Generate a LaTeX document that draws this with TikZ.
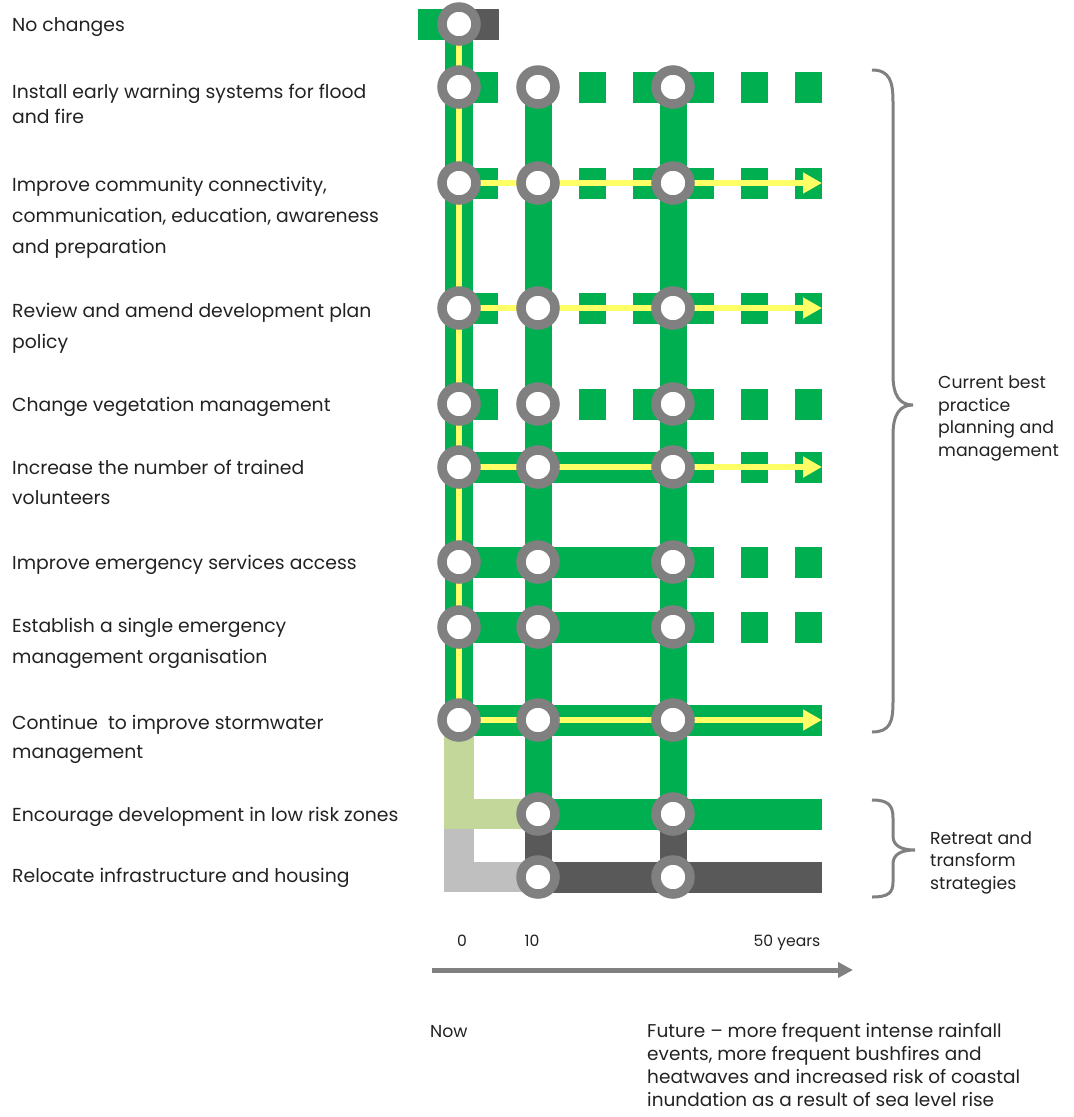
\documentclass[tikz,border=0pt]{standalone}
\usepackage{fontspec}
\setmainfont{Poppins}
\usepackage{xcolor}
\usepackage{tikz}
\usetikzlibrary{
  arrows.meta,
  backgrounds
}
\definecolor{TrackGreen}{HTML}{00B050}
\definecolor{TrackDark}{HTML}{595959}
\definecolor{TrackLight}{HTML}{C4D79B}
\definecolor{TrackGrey}{HTML}{BFBFBF}
\definecolor{RingGray}{HTML}{808080}
\definecolor{FlowYellow}{HTML}{FFFF66}
\definecolor{TextGray}{HTML}{222222}
\tikzset{
  milestone/.style={
    circle,
    draw=RingGray,
    line width=9.5pt,
    fill=white,
    inner sep=0pt,
    minimum size=34pt
  },
  track/.style={
    draw=TrackGreen,
    line width=31pt
  },
  trunk/.style={
    draw=TrackGreen,
    line width=27pt
  },
  dashtrack/.style={
    dash pattern=on 27pt off 27pt,
    dash phase=42pt
  },
  fadetrack/.style={
    dash pattern=on 27pt off 27pt,
    dash phase=27pt
  },
  transfer/.style={
    draw=FlowYellow,
    line width=6pt
  },
  transferArrow/.style={
    transfer,
    -{Triangle[length=19pt,width=20pt]}
  },
  optionText/.style={
    anchor=base west,
    align=left,
    inner sep=0pt,
    text=TextGray,
    font=\fontsize{18.8}{31}\selectfont
  },
  groupText/.style={
    anchor=base west,
    align=left,
    inner sep=0pt,
    text=TextGray,
    font=\fontsize{17.3}{22.5}\selectfont
  },
  yearText/.style={
    anchor=base,
    inner sep=0pt,
    text=TextGray,
    font=\fontsize{15.6}{18}\selectfont
  },
  brace/.style={
    draw=RingGray,
    line width=3pt
  }
}
\begin{document}
\begin{tikzpicture}[
  x=1pt,
  y=-1pt
]

  \useasboundingbox (0,0) rectangle (1074,1117);

  \node[milestone] (noChangeNow) at (459,24) {};
  \node[milestone] (warningNow) at (459,87) {};
  \node[milestone] (warningTen) at (538,87) {};
  \node[milestone] (warningMid) at (673,87) {};
  \node[milestone] (communityNow) at (459,183) {};
  \node[milestone] (communityTen) at (538,183) {};
  \node[milestone] (communityMid) at (673,183) {};
  \node[milestone] (reviewNow) at (459,308) {};
  \node[milestone] (reviewTen) at (538,308) {};
  \node[milestone] (reviewMid) at (673,308) {};
  \node[milestone] (vegetationNow) at (459,404) {};
  \node[milestone] (vegetationTen) at (538,404) {};
  \node[milestone] (vegetationMid) at (673,404) {};
  \node[milestone] (volunteersNow) at (459,467) {};
  \node[milestone] (volunteersTen) at (538,467) {};
  \node[milestone] (volunteersMid) at (673,467) {};
  \node[milestone] (accessNow) at (459,562) {};
  \node[milestone] (accessTen) at (538,562) {};
  \node[milestone] (accessMid) at (673,562) {};
  \node[milestone] (organisationNow) at (459,627) {};
  \node[milestone] (organisationTen) at (538,627) {};
  \node[milestone] (organisationMid) at (673,627) {};
  \node[milestone] (stormwaterNow) at (459,720) {};
  \node[milestone] (stormwaterTen) at (538,720) {};
  \node[milestone] (stormwaterMid) at (673,720) {};
  \node[milestone] (lowRiskTen) at (538,814) {};
  \node[milestone] (lowRiskMid) at (673,814) {};
  \node[milestone] (relocateTen) at (538,877) {};
  \node[milestone] (relocateMid) at (673,877) {};

  \coordinate (noChangeStart) at (418,24);
  \coordinate (noChangeStop) at (499,24);
  \coordinate (warningEnd) at (822,87);
  \coordinate (communityEnd) at (822,183);
  \coordinate (reviewEnd) at (822,308);
  \coordinate (vegetationEnd) at (822,404);
  \coordinate (volunteersFade) at (714,467);
  \coordinate (volunteersEnd) at (822,467);
  \coordinate (accessFade) at (714,562);
  \coordinate (accessEnd) at (822,562);
  \coordinate (organisationFade) at (714,627);
  \coordinate (organisationEnd) at (822,627);
  \coordinate (stormwaterEnd) at (822,720);
  \coordinate (lowRiskNow) at (459,814);
  \coordinate (lowRiskEnd) at (822,814);
  \coordinate (relocateNow) at (459,877);
  \coordinate (relocateEnd) at (822,877);

  \begin{scope}[on background layer]

    \draw[track]
    (noChangeStart) --
    (noChangeNow.center);

    \draw[track, draw=TrackDark]
    (noChangeNow.center) --
    (noChangeStop);

    \draw[trunk, line width=28pt]
    (noChangeNow.center) --
    (stormwaterNow.center);

    \draw[trunk]
    (warningTen.center) --
    (lowRiskTen.center);

    \draw[trunk]
    (warningMid.center) --
    (lowRiskMid.center);

    \draw[trunk, draw=TrackDark]
    (lowRiskTen.center) --
    (relocateTen.center);

    \draw[trunk, draw=TrackDark]
    (lowRiskMid.center) --
    (relocateMid.center);

    \draw[track, dashtrack]
    (warningNow.center) --
    (warningEnd);

    \draw[track, dashtrack]
    (communityNow.center) --
    (communityEnd);

    \draw[track, dashtrack]
    (reviewNow.center) --
    (reviewEnd);

    \draw[track, dashtrack]
    (vegetationNow.center) --
    (vegetationEnd);

    \draw[track]
    (volunteersNow.center) --
    (volunteersFade);

    \draw[track, fadetrack]
    (volunteersFade) --
    (volunteersEnd);

    \draw[track]
    (accessNow.center) --
    (accessFade);

    \draw[track, fadetrack]
    (accessFade) --
    (accessEnd);

    \draw[track]
    (organisationNow.center) --
    (organisationFade);

    \draw[track, fadetrack]
    (organisationFade) --
    (organisationEnd);

    \draw[track]
    (stormwaterNow.center) --
    (stormwaterEnd);

    \draw[track, draw=TrackGrey, line width=30pt]
    (lowRiskNow) --
    (relocateNow) --
    (relocateTen.center);

    \draw[track, draw=TrackLight, line width=30pt]
    (stormwaterNow.center) --
    (lowRiskNow) --
    (lowRiskTen.center);

    \draw[track]
    (lowRiskTen.center) --
    (lowRiskEnd);

    \draw[track, draw=TrackDark]
    (relocateTen.center) --
    (relocateEnd);

    \draw[transfer]
    (noChangeNow.center) --
    (stormwaterNow.center);

    \draw[transferArrow]
    (communityNow.center) --
    (communityEnd);

    \draw[transferArrow]
    (reviewNow.center) --
    (reviewEnd);

    \draw[transferArrow]
    (volunteersNow.center) --
    (volunteersEnd);

    \draw[transferArrow]
    (stormwaterNow.center) --
    (stormwaterEnd);

  \end{scope}

  \node[optionText] (noChangeText) at (12,31) {No changes};
  \node[optionText, font=\fontsize{18.8}{25}\selectfont] (warningText) at (12,123) {
    Install early warning systems for flood\\
    and fire
  };
  \node[optionText] (communityText) at (12,253) {
    Improve community connectivity,\\
    communication, education, awareness\\
    and preparation
  };
  \node[optionText] (reviewText) at (12,348) {
    Review and amend development plan\\
    policy
  };
  \node[optionText] (vegetationText) at (12,411) {Change vegetation management};
  \node[optionText, font=\fontsize{18.8}{30}\selectfont] (volunteersText) at (12,504) {
    Increase the number of trained\\
    volunteers
  };
  \node[optionText] (accessText) at (12,569) {Improve emergency services access};
  \node[optionText] (organisationText) at (12,663) {
    Establish a single emergency\\
    management organisation
  };
  \node[optionText, font=\fontsize{18.8}{29}\selectfont] (stormwaterText) at (12,758) {
    Continue\ \ to improve stormwater\\
    management
  };
  \node[optionText] (lowRiskText) at (12,821) {Encourage development in low risk zones};
  \node[optionText] (relocateText) at (12,882) {Relocate infrastructure and housing};

  \draw[brace]
  (872,70) .. controls (890,70) and (893,82) .. (893,102) --
  (893,375) .. controls (893,396) and (900,405) .. (913,405)
  .. controls (900,405) and (893,414) .. (893,435) --
  (893,702) .. controls (893,722) and (890,732) .. (872,732);

  \draw[brace]
  (872,800) .. controls (888,800) and (893,805) .. (893,818) --
  (893,836) .. controls (893,845) and (900,850) .. (915,850)
  .. controls (900,850) and (893,855) .. (893,864) --
  (893,882) .. controls (893,893) and (888,897) .. (872,897);

  \node[groupText] (bestPractice) at (938,456) {
    Current best\\
    practice\\
    planning and\\
    management
  };

  \node[groupText] (retreat) at (930,889) {
    Retreat and\\
    transform\\
    strategies
  };

  \node[yearText] (yearZero) at (462,946) {0};

  \node[yearText] (yearTen) at (532,946) {10};

  \node[yearText] (yearFifty) at (787,946) {50 years};

  \coordinate (axisStart) at (432,970);
  \coordinate (axisEnd) at (853,970);

  \draw[
    draw=RingGray,
    line width=5pt,
    -{Triangle[length=15pt,width=15pt]}
  ]
  (axisStart) --
  (axisEnd);

  \node[groupText] (nowText) at (430,1037) {Now};

  \node[groupText, font=\fontsize{18.5}{23}\selectfont] (futureText) at (647,1106) {
    Future – more frequent intense rainfall\\
    events, more frequent bushfires and\\
    heatwaves and increased risk of coastal\\
    inundation as a result of sea level rise
  };

\end{tikzpicture}
\end{document}
